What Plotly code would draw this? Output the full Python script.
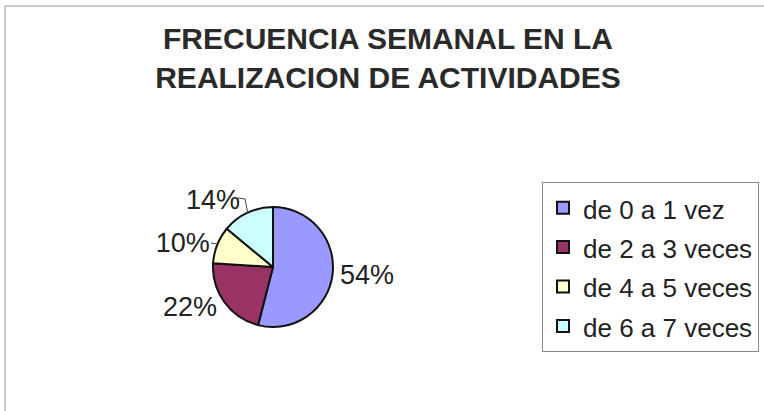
import plotly.graph_objects as go

# data
categorias = ["de 0 a 1 vez", "de 2 a 3 veces", "de 4 a 5 veces", "de 6 a 7 veces"]
porcentajes = [54, 22, 10, 14]
colores = ["#9999FF", "#993366", "#FFFFCC", "#CCFFFF"]

W, H = 764, 411

# legend line height comes from legend font size, the text itself is a bit smaller
etiquetas = [f"<span style='font-size:26px'>{c}</span>" for c in categorias]

fig = go.Figure()
fig.add_trace(
    go.Pie(
        labels=etiquetas,
        values=porcentajes,
        sort=False,
        direction="clockwise",
        rotation=0,
        marker=dict(colors=colores, line=dict(color="#111111", width=2)),
        texttemplate="%{value}%",
        textposition="outside",
        outsidetextfont=dict(family="Liberation Sans, Arial", size=27, color="#222222"),
        domain=dict(x=[213 / W, 333 / W], y=[1 - 327 / H, 1 - 207 / H]),
        hoverinfo="label+percent",
    )
)

# thin frame around the chart area (right/bottom edges fall outside the picture)
fig.add_shape(
    type="rect", xref="paper", yref="paper",
    x0=5 / W, x1=1.05, y0=-0.05, y1=1 - 6 / H,
    line=dict(color="#9a9a9a", width=1),
)

# leader lines for the two small slices
fig.add_shape(
    type="path", xref="paper", yref="paper",
    path=f"M {238 / W},{1 - 198 / H} L {245 / W},{1 - 199 / H} L {248 / W},{1 - 214 / H}",
    line=dict(color="#444444", width=1),
)
fig.add_shape(
    type="path", xref="paper", yref="paper",
    path=f"M {211 / W},{1 - 243 / H} L {217 / W},{1 - 244 / H}",
    line=dict(color="#444444", width=1),
)

fig.update_layout(
    width=W,
    height=H,
    margin=dict(l=0, r=0, t=0, b=0),
    paper_bgcolor="white",
    plot_bgcolor="white",
    title=dict(
        text="FRECUENCIA SEMANAL EN LA<br>REALIZACION DE ACTIVIDADES",
        x=388 / W,
        xanchor="center",
        y=1 - 49 / H,
        yanchor="top",
        font=dict(family="Liberation Sans, Arial", size=30, color="#2a2a2a", weight="bold"),
    ),
    showlegend=True,
    legend=dict(
        x=542 / W,
        xanchor="left",
        y=1 - 182 / H,
        yanchor="top",
        font=dict(family="Liberation Sans, Arial", size=28, color="#222222"),
        bordercolor="#8a8a8a",
        borderwidth=1,
        bgcolor="white",
        itemwidth=30,
    ),
)

fig.write_html(
    "out.html",
    config={"displayModeBar": False},
    post_script="document.body.style.margin='0';",
)
